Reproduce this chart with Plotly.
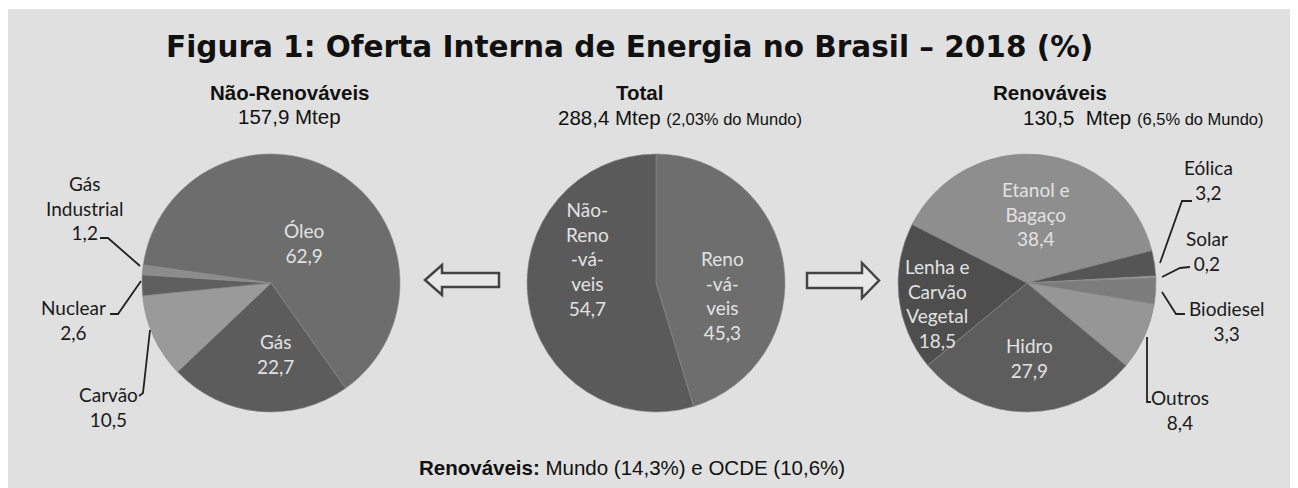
import plotly.graph_objects as go

# ---------------- data ----------------
nr_labels = ["Óleo", "Gás", "Carvão", "Nuclear", "Gás Industrial"]
nr_values = [62.9, 22.7, 10.5, 2.6, 1.2]

total_labels = ["Renováveis", "Não-Renováveis"]
total_values = [45.3, 54.7]

r_labels = ["Etanol e Bagaço", "Eólica", "Solar", "Biodiesel", "Outros", "Hidro", "Lenha e Carvão Vegetal"]
r_values = [38.4, 3.2, 0.2, 3.3, 8.4, 27.9, 18.5]

# wrapped label text (as printed in the figure)
wrap = {
    "Óleo": "Óleo", "Gás": "Gás", "Carvão": "Carvão", "Nuclear": "Nuclear",
    "Gás Industrial": "Gás<br>Industrial",
    "Renováveis": "Reno<br>-vá-<br>veis", "Não-Renováveis": "Não-<br>Reno<br>-vá-<br>veis",
    "Etanol e Bagaço": "Etanol e<br>Bagaço", "Eólica": "Eólica", "Solar": "Solar",
    "Biodiesel": "Biodiesel", "Outros": "Outros", "Hidro": "Hidro",
    "Lenha e Carvão Vegetal": "Lenha e<br>Carvão<br>Vegetal",
}

# page body has an 8px margin -> the figure starts at (8, 8) in the window
OFF = 8
W, H = 1298 - OFF, 488 - OFF


def fmt(v):
    return f"{v:.1f}".replace(".", ",")


def px(x):
    return (x - OFF) / W


def py(y):
    return 1 - (y - OFF) / H


def dom(cx, cy, r):
    return dict(x=[px(cx - r), px(cx + r)], y=[py(cy + r), py(cy - r)])


LBL_FONT = "Lato"
R = 129

fig = go.Figure()

fig.add_trace(go.Pie(
    labels=nr_labels, values=nr_values, sort=False, direction="clockwise", rotation=278,
    textinfo="none",
    marker=dict(colors=["#6d6d6d", "#5c5c5c", "#9a9a9a", "#5f5f5f", "#8c8c8c"],
                line=dict(color="#8a8a8a", width=0.6)),
    domain=dom(271, 283, R), showlegend=False, hoverinfo="label+value",
))

fig.add_trace(go.Pie(
    labels=total_labels, values=total_values, sort=False, direction="clockwise", rotation=0,
    textinfo="none",
    marker=dict(colors=["#6e6e6e", "#5a5a5a"], line=dict(color="#8a8a8a", width=0.6)),
    domain=dom(656, 283, R), showlegend=False, hoverinfo="label+value",
))

fig.add_trace(go.Pie(
    labels=r_labels, values=r_values, sort=False, direction="clockwise", rotation=297,
    textinfo="none",
    marker=dict(colors=["#8e8e8e", "#555555", "#9a9a9a", "#7c7c7c", "#969696", "#5d5d5d", "#4e4e4e"],
                line=dict(color="#8a8a8a", width=0.6)),
    domain=dom(1027, 283, R), showlegend=False, hoverinfo="label+value",
))

shapes = []
# background panel
shapes.append(dict(type="rect", xref="paper", yref="paper", x0=px(8), x1=px(1296), y0=py(490), y1=py(9),
                   fillcolor="#e0e0e0", line=dict(width=0), layer="below"))


def path(pts, close=False):
    s = "M " + " L ".join(f"{px(x):.5f},{py(y):.5f}" for x, y in pts)
    return s + (" Z" if close else "")


# block arrows
left_arrow = [(425, 280), (442, 265), (442, 273), (499, 273), (499, 287), (442, 287), (442, 295)]
right_arrow = [(807, 273), (862, 273), (862, 263), (879, 280.5), (862, 298), (862, 288), (807, 288)]
for a in (left_arrow, right_arrow):
    shapes.append(dict(type="path", xref="paper", yref="paper", path=path(a, True),
                       fillcolor="#e8e8e8", line=dict(color="#444444", width=2.5)))

# leader lines
leaders = [
    [(100, 238), (108, 238), (140, 266)],        # Gás Industrial
    [(110, 314), (118, 314), (141, 281)],        # Nuclear
    [(139, 396), (143, 393), (150, 330)],        # Carvão
    [(1192, 201), (1182, 201), (1160, 263)],     # Eólica
    [(1190, 267), (1180, 268), (1162, 277)],     # Solar
    [(1185, 314), (1176, 314), (1162, 292)],     # Biodiesel
    [(1147, 337), (1147, 402), (1151, 402)],     # Outros
]
for l in leaders:
    shapes.append(dict(type="path", xref="paper", yref="paper", path=path(l),
                       line=dict(color="#222222", width=1.8)))

annotations = []


def ann(x, y, text, size, color="#111111", family="Liberation Sans", xanchor="center", align="center"):
    annotations.append(dict(x=px(x), y=py(y), xref="paper", yref="paper", text=text, showarrow=False,
                            xanchor=xanchor, yanchor="middle", align=align,
                            font=dict(family=family, size=size, color=color)))


NB = "\u00a0"
ann(629, 47, "<b>Figura 1: Oferta Interna de Energia no Brasil – 2018 (%)</b>", 29.5, family="DejaVu Sans")
ann(290, 92, "<b>Não-Renováveis</b>", 20.5)
ann(289, 117, "157,9 Mtep", 20.5)
ann(639, 92, "<b>Total</b>", 20.5)
ann(680, 118, "288,4 Mtep <span style='font-size:16.5px'>(2,03% do Mundo)</span>", 20.5)
ann(1050, 92, "<b>Renováveis</b>", 20.5)
ann(1143, 118, f"130,5 {NB}Mtep <span style='font-size:16.5px'>(6,5% do Mundo)</span>", 20.5)
ann(632, 467, "<b>Renováveis:</b> Mundo (14,3%) e OCDE (10,6%)", 20.5)

# label positions (slice label placement, px in the 1298x488 picture)
label_pos = {
    "Óleo": (304, 243), "Gás": (275, 354), "Carvão": (108, 407), "Nuclear": (73, 320),
    "Gás Industrial": (84, 208),
    "Não-Renováveis": (587, 259), "Renováveis": (722, 295),
    "Etanol e Bagaço": (1036, 214), "Lenha e Carvão Vegetal": (937, 303), "Hidro": (1029, 358),
    "Eólica": (1208, 180), "Solar": (1207, 251), "Biodiesel": (1226, 321), "Outros": (1180, 410),
}
outside = {"Carvão", "Nuclear", "Gás Industrial", "Eólica", "Solar", "Biodiesel", "Outros"}

for labels, values in ((nr_labels, nr_values), (total_labels, total_values), (r_labels, r_values)):
    for l, v in zip(labels, values):
        x, y = label_pos[l]
        color = "#1a1a1a" if l in outside else "#e2e2e2"
        ann(x, y, f"{wrap[l]}<br>{fmt(v)}", 19, color=color, family=LBL_FONT)

fig.update_layout(
    width=W, height=H, margin=dict(l=0, r=0, t=0, b=0),
    paper_bgcolor="white", plot_bgcolor="white",
    shapes=shapes, annotations=annotations,
)

fig.write_html("out.html")
